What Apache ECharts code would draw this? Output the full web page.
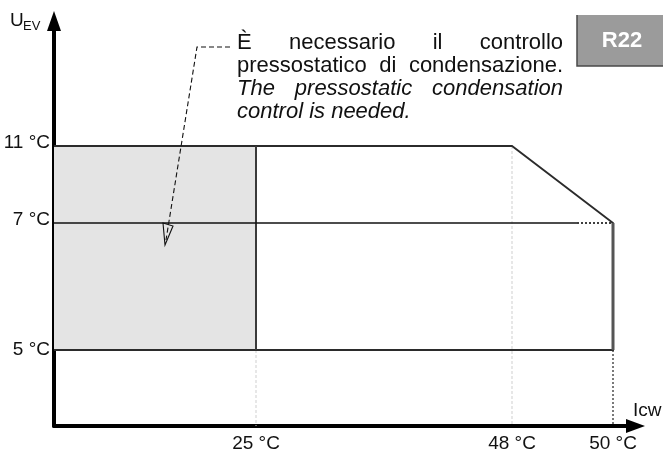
<!DOCTYPE html>
<html><head><meta charset="utf-8">
<script src="https://cdn.jsdelivr.net/npm/echarts@6/dist/echarts.min.js"></script>
<style>html,body{margin:0;padding:0;background:#fff}#c{width:663px;height:456px}</style>
</head><body><div id="c"></div>
<script>
// ---------------- data ----------------
// Axis ticks (the drawing is schematic: positions are not to scale)
const xTickLabels = ['25 °C', '48 °C', '50 °C'];
const xTickTemps  = [25, 48, 50];
const xTickPos    = [2.02, 4.58, 5.59];
const yTickLabels = ['5 °C', '7 °C', '11 °C'];
const yTickTemps  = [5, 7, 11];
const yTickPos    = [0.76, 2.03, 2.80];
// Operating envelope (Icw °C, U_EV °C)
const envelopeX = [0, 48, 50, 50, 0];
const envelopeY = [11, 11, 7, 5, 5];
// Region where pressostatic condensation control is needed
const pressRegionX = [0, 25];
const pressRegionY = [5, 11];
// 7 °C line: solid part ends here (schematic position), dotted afterwards
const line7SolidEnd = 5.23;
const refrigerant = 'R22';
const annotationLines = [
  'È necessario il controllo',
  'pressostatico di condensazione.',
  'The pressostatic condensation',
  'control is needed.'
];
// --------------------------------------

const FONT = '"Liberation Sans", Arial, sans-serif';
function xp(t) { return t === 0 ? 0 : xTickPos[xTickTemps.indexOf(t)]; }
function yp(t) { return t === 0 ? 0 : yTickPos[yTickTemps.indexOf(t)]; }
function nearestIdx(v, pos) {
  let best = 0;
  pos.forEach((p, i) => { if (Math.abs(p - v) < Math.abs(pos[best] - v)) best = i; });
  return best;
}

const chart = echarts.init(document.getElementById('c'), null, {renderer: 'canvas'});

function seg(name, pts, style, z) {
  return {
    type: 'line', name: name, data: pts, symbol: 'none', silent: true, z: z || 3,
    lineStyle: Object.assign({cap: 'butt', join: 'miter'}, style), animation: false
  };
}

// ---- justified annotation text ----
const annoSize = 22;
const annoLeft = 237, annoRight = 563;
const annoY = [43, 66, 89, 112];
const ctx = document.createElement('canvas').getContext('2d');
const graphics = [];
annotationLines.forEach((line, li) => {
  const italic = li >= 2;
  const justify = li < annotationLines.length - 1;
  const font = (italic ? 'italic ' : '') + annoSize + 'px ' + FONT;
  ctx.font = font;
  const words = line.split(' ');
  const widths = words.map(w => ctx.measureText(w).width);
  const total = widths.reduce((a, b) => a + b, 0);
  const gap = justify && words.length > 1 ? (annoRight - annoLeft - total) / (words.length - 1) : ctx.measureText(' ').width;
  let x = annoLeft;
  words.forEach((w, wi) => {
    graphics.push({
      type: 'text', x: x, y: annoY[li], silent: true, z: 100,
      style: {text: w, font: font, fill: '#111', textVerticalAlign: 'middle', textAlign: 'left'}
    });
    x += widths[wi] + gap;
  });
});

// leader line + open arrow head (annotation)
graphics.push({type: 'polyline', silent: true, z: 100,
  shape: {points: [[230, 47], [197, 47], [166, 240]]},
  style: {stroke: '#111', lineWidth: 1.1, lineDash: [5, 3], fill: null}});
graphics.push({type: 'polygon', silent: true, z: 100,
  shape: {points: [[163, 223], [173, 226], [165, 245]]},
  style: {stroke: '#111', lineWidth: 1.1, fill: null}});

// R22 badge
graphics.push({type: 'rect', silent: true, z: 100, shape: {x: 577, y: 15, width: 90, height: 51},
  style: {fill: '#9b9b9b'}});
graphics.push({type: 'polyline', silent: true, z: 100, shape: {points: [[577, 15], [577, 66], [663, 66]]},
  style: {stroke: '#4a4a4a', lineWidth: 1.5, fill: null}});
graphics.push({type: 'text', x: 622, y: 41, silent: true, z: 101,
  style: {text: refrigerant, font: 'bold 22px ' + FONT, fill: '#fff', textAlign: 'center', textVerticalAlign: 'middle'}});

// axis names
graphics.push({type: 'text', x: 10, y: 21, silent: true, z: 100,
  style: {text: 'U', font: '19px ' + FONT, fill: '#111', textVerticalAlign: 'middle'}});
graphics.push({type: 'text', x: 23, y: 26, silent: true, z: 100,
  style: {text: 'EV', font: '13px ' + FONT, fill: '#111', textVerticalAlign: 'middle'}});
graphics.push({type: 'text', x: 633, y: 411, silent: true, z: 100,
  style: {text: 'Icw', font: '19px ' + FONT, fill: '#111', textVerticalAlign: 'middle'}});

const labelRich = {
  up: {fontSize: 19, fontFamily: FONT, color: '#111', padding: [0, 0, 7, 0]},
  mid: {fontSize: 19, fontFamily: FONT, color: '#111', padding: [0, 0, 0, 0]}
};

const option = {
  animation: false,
  backgroundColor: '#fff',
  grid: {left: 54, right: 27.5, top: 21, bottom: 30, containLabel: false},
  xAxis: {
    type: 'value', min: 0, max: 5.815,
    axisLine: {show: true, onZero: false, symbol: ['none', 'triangle'], symbolSize: [14, 19],
      lineStyle: {color: '#000', width: 4}},
    axisTick: {show: false}, splitLine: {show: false},
    axisLabel: {customValues: xTickPos, formatter: v => xTickLabels[nearestIdx(v, xTickPos)],
      color: '#111', fontSize: 19, fontFamily: FONT, margin: 8}
  },
  yAxis: {
    type: 'value', min: 0, max: 4.05,
    axisLine: {show: true, onZero: false, symbol: ['none', 'triangle'], symbolSize: [14, 20],
      lineStyle: {color: '#000', width: 4}},
    axisTick: {show: false}, splitLine: {show: false},
    axisLabel: {customValues: yTickPos,
      formatter: v => { const i = nearestIdx(v, yTickPos); return '{' + (i === 0 ? 'mid' : 'up') + '|' + yTickLabels[i] + '}'; },
      rich: labelRich, color: '#111', fontSize: 19, fontFamily: FONT, margin: 4}
  },
  series: [
    {
      type: 'line', name: 'region', data: [], symbol: 'none', silent: true, z: 1,
      markArea: {silent: true, itemStyle: {color: '#e4e4e4'},
        data: [[{coord: [xp(pressRegionX[0]), yp(pressRegionY[1])]}, {coord: [xp(pressRegionX[1]), yp(pressRegionY[0])]}]]}
    },
    seg('grid25', [[xp(25), yp(5)], [xp(25), 0]], {color: '#cfcfcf', width: 1, type: [3, 2]}, 2),
    seg('grid48', [[xp(48), yp(11)], [xp(48), 0]], {color: '#cfcfcf', width: 1, type: [3, 2]}, 2),
    seg('grid50', [[xp(50), yp(5)], [xp(50), 0]], {color: '#222', width: 1.2, type: [2, 2]}, 2),
    seg('envelope', envelopeX.map((x, i) => [xp(x), yp(envelopeY[i])]), {color: '#2b2b2b', width: 1.8}, 4),
    seg('edge50', [[xp(50), yp(7)], [xp(50), yp(5)]], {color: '#555', width: 3}, 5),
    seg('edge25', [[xp(25), yp(5)], [xp(25), yp(11)]], {color: '#3a3a3a', width: 2}, 4),
    seg('u7solid', [[0, yp(7)], [line7SolidEnd, yp(7)]], {color: '#111', width: 1.6}, 4),
    seg('u7dotted', [[line7SolidEnd, yp(7)], [xp(50), yp(7)]], {color: '#111', width: 1.6, type: [2, 2]}, 4)
  ],
  graphic: {elements: graphics}
};
chart.setOption(option);
</script></body></html>
